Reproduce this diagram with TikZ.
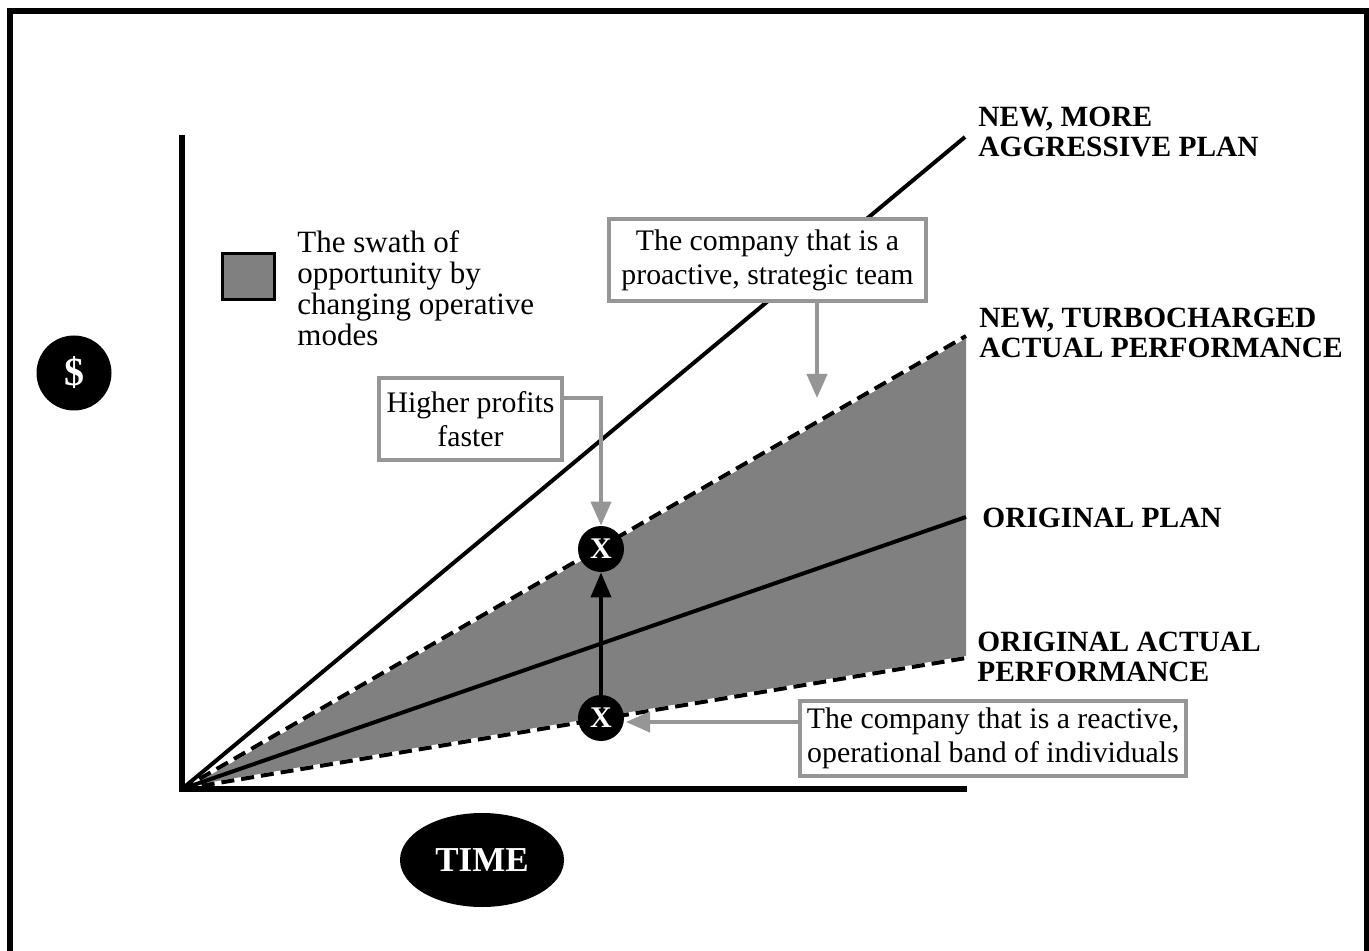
\documentclass[tikz,border=0pt]{standalone}
\usepackage{fontspec}
\setmainfont{Liberation Serif}
\usetikzlibrary{shapes.geometric,arrows.meta}
\definecolor{boxgray}{RGB}{150,150,150}
\definecolor{swath}{RGB}{128,128,128}
\tikzset{
  callout/.style={draw=boxgray, line width=2pt, fill=white, inner sep=2pt, align=center,
     font=\fontsize{14.9}{17}\selectfont},
  grayarrow/.style={draw=boxgray, line width=2pt, -{Triangle[width=10pt,length=12pt]}},
  plotline/.style={line width=2pt, line cap=butt},
  dashline/.style={line width=2pt, dash pattern=on 6.5pt off 3.5pt},
  whiteline/.style={line width=2pt, white},
  bold label/.style={anchor=north west, inner sep=0pt, align=left,
     font=\bfseries\fontsize{14.7}{15}\selectfont},
  xmark/.style={circle, fill=black, minimum size=23pt, inner sep=0pt, text=white,
     font=\bfseries\fontsize{15}{15}\selectfont},
}
\begin{document}
\begin{tikzpicture}[x=0.5pt, y=-0.5pt]
\useasboundingbox (0,0) rectangle (1369,951);
\fill[white] (0,0) rectangle (1369,951);
% frame
\draw[line width=3pt, line join=miter] (9.5,951) -- (9.5,11.5) -- (1366.5,11.5) -- (1366.5,951);

% coordinates
\coordinate (O) at (182,789);
\coordinate (A) at (965,137);
\coordinate (T) at (966,336);
\coordinate (P) at (966,517);
\coordinate (R) at (966,658);
\coordinate (ytop) at (182,135);
\coordinate (xend) at (967,789);

% swath
\fill[swath] (O) -- (T) -- (R) -- cycle;

% lines
\draw[whiteline] (O) -- (T);
\draw[dashline] (O) -- (T);
\draw[whiteline] (O) -- (R);
\draw[dashline] (O) -- (R);
\draw[plotline] (O) -- (P);
\draw[plotline] (O) -- (A);

% axes
\draw[line width=2.6pt, line join=miter] (ytop) -- (O) -- (xend);

% labels
\node[bold label] (lA) at (978,107) {NEW, MORE\\AGGRESSIVE PLAN};
\node[bold label] (lT) at (979,308) {NEW, TURBOCHARGED\\ACTUAL PERFORMANCE};
\node[bold label] (lP) at (982,508) {ORIGINAL PLAN};
\node[bold label] (lR) at (977,632) {ORIGINAL ACTUAL\\PERFORMANCE};

% legend
\node[draw=black, line width=1.3pt, fill=swath, minimum width=26pt, minimum height=23pt, inner sep=0pt] (leg) at (248.5,276.5) {};
\node[anchor=north west, inner sep=0pt, align=left, font=\fontsize{15.5}{15.5}\selectfont] (legt) at (297,230)
  {The swath of\\opportunity by\\changing operative\\modes};

% X markers
\node[xmark] (xhi) at (601,549) {X};
\node[xmark] (xlo) at (601,718) {X};
\draw[line width=2pt, -{Triangle[width=10pt,length=12.5pt]}] (xlo.north) -- (xhi.south);

% callouts
\node[callout, minimum width=91.5pt, minimum height=41pt] (hp) at (470.5,419) {Higher profits\\faster};
\node[callout, minimum width=158.5pt, minimum height=41pt] (pa) at (767.5,260) {The company that is a\\proactive, strategic team};
\node[callout, minimum width=193pt, minimum height=37.5pt] (ra) at (993,738.5) {The company that is a reactive,\\operational band of individuals};

\coordinate (paend) at (817,398);
\coordinate (raend) at (626,722);
\draw[grayarrow] ([yshift=10.5pt]hp.east) -| (xhi.north);
\draw[grayarrow] (pa.south -| paend) -- (paend);
\draw[grayarrow] (ra.west |- raend) -- (raend);

% dollar and time
\node[circle, fill=black, minimum size=37.5pt, inner sep=0pt, text=white,
      font=\bfseries\fontsize{20}{20}\selectfont] (dollar) at (74,373) {\$};
\node[ellipse, fill=black, minimum width=82pt, minimum height=47pt, inner sep=0pt, text=white,
      font=\bfseries\fontsize{17.5}{17.5}\selectfont] (time) at (482,860) {TIME};
\end{tikzpicture}
\end{document}
